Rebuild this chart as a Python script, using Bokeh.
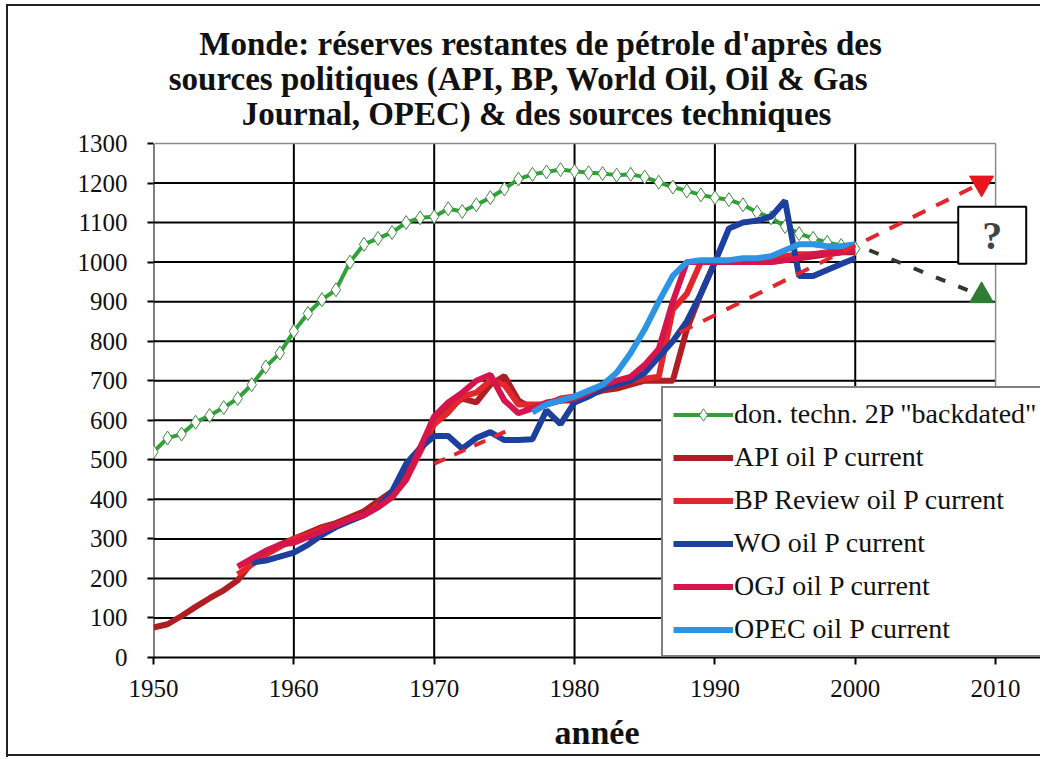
from bokeh.plotting import figure
from bokeh.models import Range1d, Legend, LegendItem, Label, FixedTicker
from bokeh.embed import file_html
from bokeh.resources import INLINE

# ---------------- data ----------------
tech_years = list(range(1950, 2001))
tech_vals = [520, 555, 565, 595, 612, 632, 655, 690, 735, 770,
             825, 870, 905, 930, 1000, 1045, 1060, 1075, 1100, 1112,
             1115, 1135, 1128, 1145, 1163, 1185, 1210, 1222, 1228, 1234,
             1230, 1226, 1224, 1220, 1222, 1215, 1202, 1190, 1180, 1170,
             1163, 1158, 1145, 1126, 1112, 1090, 1072, 1060, 1050, 1042,
             1034]

api_years = list(range(1950, 2001))
api_vals = [76, 84, 105, 128, 150, 170, 195, 240, 265, 285,
            300, 315, 330, 340, 355, 370, 395, 420, 460, 530,
            600, 630, 655, 645, 690, 712, 650, 630, 640, 650,
            650, 665, 675, 680, 690, 700, 700, 700, 830, 920,
            1000, 1000, 1000, 1000, 1000, 1005, 1010, 1015, 1020, 1025,
            1025]

bp_years = list(range(1956, 2001))
bp_vals = [210, 235, 260, 280, 300, 310, 325, 335, 350, 360,
           385, 410, 450, 520, 590, 620, 660, 670, 700, 690,
           640, 640, 640, 655, 660, 670, 680, 690, 700, 705,
           710, 880, 920, 1000, 1000, 1000, 1000, 1005, 1010, 1015,
           1020, 1020, 1025, 1030, 1030]

wo_years = list(range(1957, 2001))
wo_vals = [240, 245, 255, 265, 285, 310, 330, 345, 360, 380,
           420, 490, 530, 560, 560, 528, 555, 570, 550, 550,
           552, 625, 590, 645, 660, 680, 690, 700, 720, 760,
           800, 850, 920, 1000, 1085, 1100, 1105, 1115, 1155, 965,
           965, 980, 995, 1010]

ogj_years = list(range(1956, 2001))
ogj_vals = [230, 250, 270, 285, 290, 305, 320, 335, 350, 360,
            380, 405, 450, 530, 610, 645, 670, 700, 715, 650,
            618, 630, 645, 650, 655, 670, 690, 700, 710, 740,
            780, 900, 1000, 1000, 1000, 1000, 1000, 1000, 1000, 1005,
            1010, 1020, 1020, 1025, 1030]

opec_years = list(range(1977, 2001))
opec_vals = [620, 640, 650, 660, 675, 690, 720, 770,
             830, 900, 965, 1000, 1005, 1005, 1005, 1010, 1010, 1015,
             1030, 1045, 1045, 1040, 1040, 1045]

# projections
low_proj_years = [2001, 2009]
low_proj_vals = [1030, 915]
high_proj_years = [1987.5, 2009]
high_proj_vals = [822, 1200]
trend70_years = [1970.0, 1975.3]
trend70_vals = [490, 575]

x_ticks = [1950, 1960, 1970, 1980, 1990, 2000, 2010]
y_ticks = list(range(0, 1301, 100))

title_lines = ["Monde: réserves restantes de pétrole d'après des",
               "sources politiques (API, BP, World Oil, Oil & Gas",
               "Journal, OPEC) & des sources techniques"]
x_label = "année"
labels = ['don. techn. 2P "backdated"', "API oil P current",
          "BP Review oil P current", "WO oil P current",
          "OGJ oil P current", "OPEC oil P current"]

# ---------------- styles / layout ----------------
GREEN = "#2EA236"
API_C = "#B01E23"
BP_C = "#E3262B"
WO_C = "#1D3F9E"
OGJ_C = "#D5154C"
OPEC_C = "#2D93E3"
SERIF = "Liberation Serif"

FIG_W, FIG_H = 1040, 757
LEFT, BOTTOM = 153, 100
BOX_H = 514                    # pixel height of the 0..1300 box
FRAME_H = FIG_H - BOTTOM       # frame runs up to the top so titles are not clipped
Y_TOP = y_ticks[-1] * FRAME_H / BOX_H
X_END = 2013.2                 # frame runs past 2010 so legend / "?" box fit

p = figure(width=FIG_W, height=FIG_H,
           x_range=Range1d(x_ticks[0], X_END), y_range=Range1d(y_ticks[0], Y_TOP),
           output_backend="svg", toolbar_location=None,
           min_border_left=LEFT, min_border_right=0,
           min_border_top=0, min_border_bottom=BOTTOM)
p.title = None
p.styles = {"background": (
    "linear-gradient(#222,#222) 6px 5px / 2px 752px no-repeat, "
    "linear-gradient(#222,#222) 6px 4px / 1034px 2px no-repeat, "
    "linear-gradient(#222,#222) 6px 754px / 1034px 2px no-repeat, white")}
p.border_fill_alpha = 0
p.background_fill_alpha = 0
p.outline_line_color = None

# title lines (screen units, from the frame's bottom-left corner)
title_pos = [(387, 614), (365, 579), (383, 544)]
for line, (tx, ty) in zip(title_lines, title_pos):
    p.add_layout(Label(x=tx, y=ty, x_units="screen", y_units="screen",
                       text=line, text_align="center", text_baseline="middle",
                       text_font=SERIF, text_font_style="bold",
                       text_font_size="33px", text_color="#111111"))

for ax in (p.xaxis[0], p.yaxis[0]):
    ax.axis_line_color = "black"
    ax.axis_line_width = 2
    ax.major_tick_line_color = "black"
    ax.major_tick_line_width = 2
    ax.major_tick_in = 0
    ax.minor_tick_line_color = None
    ax.major_label_text_font = SERIF
    ax.major_label_text_font_size = "25px"
    ax.major_label_text_color = "#111111"
p.yaxis[0].axis_line_color = None

p.xaxis[0].ticker = FixedTicker(ticks=x_ticks)
p.yaxis[0].ticker = FixedTicker(ticks=y_ticks)
p.xaxis[0].major_tick_out = 7
p.yaxis[0].major_tick_out = 6
p.xaxis[0].major_label_standoff = 15
p.yaxis[0].major_label_standoff = 20
p.xaxis[0].axis_label = x_label
p.xaxis[0].axis_label_text_font = SERIF
p.xaxis[0].axis_label_text_font_style = "bold"
p.xaxis[0].axis_label_text_font_size = "34px"
p.xaxis[0].axis_label_text_color = "#111111"
p.xaxis[0].axis_label_standoff = 14

p.xgrid.visible = False
p.ygrid.visible = False

# box: white fill, grid lines restricted to 1950-2010 x 0-1300
p.quad(left=[x_ticks[0]], right=[x_ticks[-1]], bottom=[y_ticks[0]], top=[y_ticks[-1]],
       fill_color="white", line_color=None)
inner_y = y_ticks[1:-1]
p.segment(x0=[x_ticks[0]] * len(inner_y), y0=inner_y,
          x1=[x_ticks[-1]] * len(inner_y), y1=inner_y,
          line_color="black", line_width=2)
inner_x = x_ticks[:-1]
p.segment(x0=inner_x, y0=[y_ticks[0]] * len(inner_x),
          x1=inner_x, y1=[y_ticks[-1]] * len(inner_x),
          line_color="black", line_width=2)
# thin grey top / right edges of the box
p.segment(x0=[x_ticks[0] + 0.1, x_ticks[-1]], y0=[y_ticks[-1], y_ticks[0]],
          x1=[x_ticks[-1], x_ticks[-1]], y1=[y_ticks[-1], y_ticks[-1]],
          line_color="#8a8a8a", line_width=1.5)

# ---------------- glyphs ----------------
g_line = p.line(tech_years, tech_vals, color=GREEN, line_width=4)
g_pts = p.scatter(tech_years, tech_vals, marker="diamond", size=14,
                  fill_color="white", line_color="#3C8C3C", line_width=1)

r_api = p.line(api_years, api_vals, color=API_C, line_width=6)
r_bp = p.line(bp_years, bp_vals, color=BP_C, line_width=6)
r_wo = p.line(wo_years, wo_vals, color=WO_C, line_width=6)
r_ogj = p.line(ogj_years, ogj_vals, color=OGJ_C, line_width=6)
r_opec = p.line(opec_years, opec_vals, color=OPEC_C, line_width=6)

p.line(trend70_years, trend70_vals, color=BP_C, line_width=4, line_dash="12 10")
p.line(high_proj_years, high_proj_vals, color=BP_C, line_width=4, line_dash="14 12")
p.line(low_proj_years, low_proj_vals, color="#2F3A2F", line_width=4, line_dash="10 14")
p.scatter([high_proj_years[-1]], [high_proj_vals[-1]], marker="inverted_triangle",
          size=24, color="#E8161C")
p.scatter([low_proj_years[-1]], [low_proj_vals[-1]], marker="triangle",
          size=24, color="#2E7D32")

p.add_layout(Label(x=2009.76, y=1068, text="?", text_align="center",
                   text_baseline="middle", text_font=SERIF,
                   text_font_style="bold", text_font_size="40px",
                   border_line_color="black", border_line_width=2,
                   background_fill_color="white",
                   padding=dict(left=24, right=24, top=6, bottom=6)))

legend = Legend(items=[
    LegendItem(label=labels[0], renderers=[g_line, g_pts]),
    LegendItem(label=labels[1], renderers=[r_api]),
    LegendItem(label=labels[2], renderers=[r_bp]),
    LegendItem(label=labels[3], renderers=[r_wo]),
    LegendItem(label=labels[4], renderers=[r_ogj]),
    LegendItem(label=labels[5], renderers=[r_opec]),
], location=(508, 0))
legend.label_text_font = SERIF
legend.label_text_font_size = "28px"
legend.label_text_color = "#111111"
legend.glyph_width = 60
legend.glyph_height = 31
legend.label_height = 31
legend.label_standoff = 1
legend.spacing = 11
legend.padding = 10
legend.margin = 0
legend.border_line_color = "black"
legend.border_line_width = 2
legend.background_fill_color = "white"
legend.background_fill_alpha = 1
p.add_layout(legend, "center")

open("out.html", "w").write(file_html(p, INLINE))
